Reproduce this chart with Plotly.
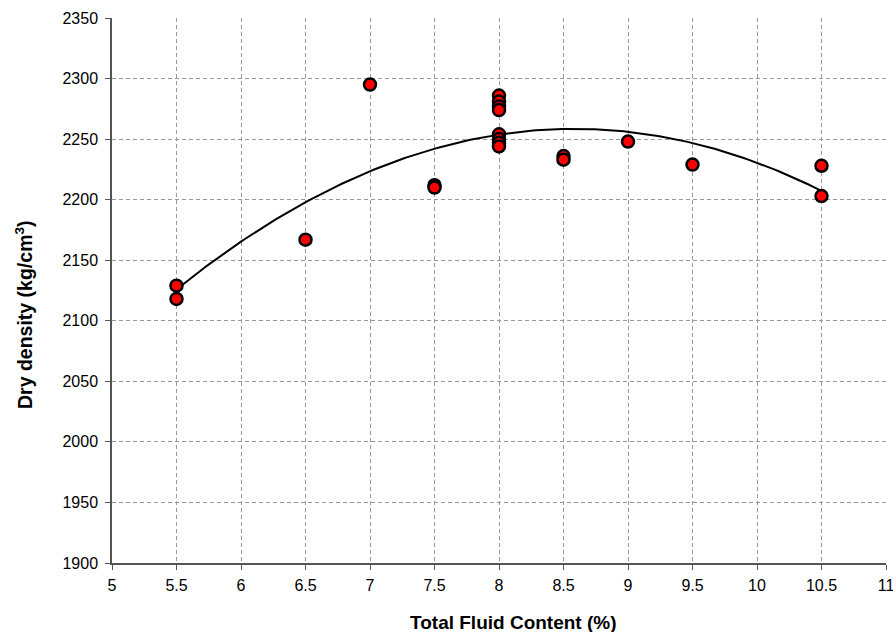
import numpy as np
import plotly.graph_objects as go

fluid = [5.5, 5.5, 6.5, 7.0, 7.5, 7.5, 8.0, 8.0, 8.0, 8.0, 8.0, 8.0, 8.0, 8.0,
         8.5, 8.5, 9.0, 9.5, 10.5, 10.5]
density = [2129, 2118, 2167, 2295, 2212, 2210, 2286, 2281, 2277, 2274, 2254, 2250, 2247, 2244,
           2236, 2233, 2248, 2229, 2228, 2203]

coef = np.polyfit(fluid, density, 2)
xs = np.linspace(5.5, 10.5, 200)
ys = np.polyval(coef, xs)

fig = go.Figure()
fig.add_trace(go.Scatter(x=xs, y=ys, mode="lines", line=dict(color="black", width=2),
                         hoverinfo="skip", showlegend=False))
fig.add_trace(go.Scatter(x=fluid, y=density, mode="markers",
                         marker=dict(color="#ff0000", size=12, line=dict(color="black", width=2.5)),
                         showlegend=False))

L, R, T, B = 112, 7, 18, 69
W, H = 893, 632
pw, ph = W - L - R, H - T - B

fig.update_layout(
    width=W, height=H,
    margin=dict(l=L, r=R, t=T, b=B),
    paper_bgcolor="white", plot_bgcolor="white",
    font=dict(family="Liberation Sans, Arial, sans-serif", size=16, color="black"),
    annotations=[
        dict(text="<b>Total Fluid Content (%)</b>", xref="paper", yref="paper",
             x=(513.5 - L) / pw, y=(H - B - 622) / ph, xanchor="center", yanchor="middle",
             showarrow=False, font=dict(size=19)),
        dict(text="<b>Dry density (kg/cm<sup>3</sup>)</b>", xref="paper", yref="paper",
             x=(24 - L) / pw, y=(H - B - 315) / ph, xanchor="center", yanchor="middle",
             textangle=-90, showarrow=False, font=dict(size=19.5)),
    ],
)
fig.update_xaxes(range=[5, 11], dtick=0.5, tick0=5, showgrid=True, gridcolor="#999999",
                 griddash="4px,3px", gridwidth=1, showline=True, linecolor="#555555", linewidth=1.5,
                 ticks="outside", ticklen=5, tickcolor="#555555", zeroline=False, automargin=False,
                 ticklabeloverflow="allow", ticklabelstandoff=2)
fig.update_yaxes(range=[1900, 2350], dtick=50, showgrid=True, gridcolor="#999999",
                 griddash="4px,3px", gridwidth=1, showline=True, linecolor="#555555", linewidth=1.5,
                 ticks="outside", ticklen=5, tickcolor="#555555", zeroline=False, automargin=False,
                 ticklabeloverflow="allow", ticklabelstandoff=4)

fig.write_html("out.html")
